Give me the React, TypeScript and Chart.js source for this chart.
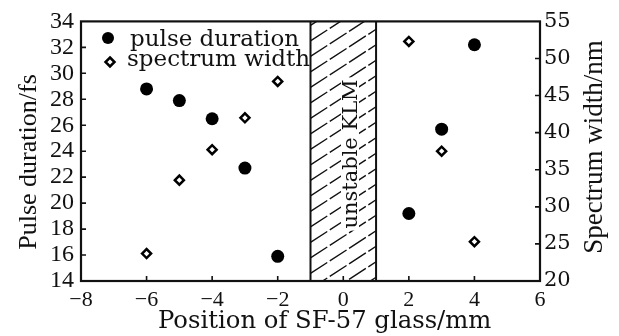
import React, { useEffect, useRef } from 'react';
import { Chart, registerables } from 'chart.js';

Chart.register(...registerables);

// ---- data ----
const positions = [-6, -5, -4, -3, -2, 2, 3, 4];
const pulseDuration = [28.8, 27.9, 26.5, 22.7, 15.9, 19.2, 25.7, 32.2];
const spectrumWidth = [23.7, 33.6, 37.7, 42.0, 46.9, 52.3, 37.5, 25.3];
const xTickValues = [-8, -6, -4, -2, 0, 2, 4, 6];
const leftTickValues = [14, 16, 18, 20, 22, 24, 26, 28, 30, 32, 34];
const rightTickValues = [20, 25, 30, 35, 40, 45, 50, 55];
const unstableRange = [-1, 1];
const seriesNames = ['pulse duration', 'spectrum width'];
const xTitle = 'Position of SF-57 glass/mm';
const leftTitle = 'Pulse duration/fs';
const rightTitle = 'Spectrum width/nm';
const regionLabel = 'unstable KLM';

const INK = '#111';

const decor = {
  id: 'decor',
  beforeDatasetsDraw(chart: any) {
    const { ctx, chartArea: a, scales } = chart;
    const x = scales.x;
    const x0 = x.getPixelForValue(unstableRange[0]);
    const x1 = x.getPixelForValue(unstableRange[1]);
    ctx.save();
    ctx.beginPath();
    ctx.rect(x0, a.top, x1 - x0, a.bottom - a.top);
    ctx.clip();
    ctx.strokeStyle = INK;
    ctx.lineWidth = 1.4;
    ctx.setLineDash([20, 3]);
    const w = x1 - x0;
    const rise = w * 0.65;
    const step = 15.5;
    for (let y = a.top + 4; y < a.bottom + rise + step; y += step) {
      ctx.beginPath();
      ctx.moveTo(x0, y);
      ctx.lineTo(x1, y - rise);
      ctx.stroke();
    }
    ctx.restore();

    // region label with white background
    ctx.save();
    ctx.font = '21px "DejaVu Serif"';
    const tw = ctx.measureText(regionLabel).width;
    const cy = 154;
    const bx = 357;
    ctx.translate(bx, cy);
    ctx.rotate(-Math.PI / 2);
    ctx.fillStyle = '#fff';
    ctx.fillRect(-tw / 2 - 2, -16, tw + 4, 18);
    ctx.fillStyle = INK;
    ctx.textAlign = 'center';
    ctx.textBaseline = 'alphabetic';
    ctx.fillText(regionLabel, 0, 0);
    ctx.restore();

    // borders of region
    ctx.save();
    ctx.strokeStyle = INK;
    ctx.lineWidth = 2;
    ctx.beginPath();
    ctx.moveTo(x0, a.top);
    ctx.lineTo(x0, a.bottom);
    ctx.moveTo(x1, a.top);
    ctx.lineTo(x1, a.bottom);
    ctx.stroke();
    ctx.restore();
  },
  afterDraw(chart: any) {
    const { ctx, chartArea: a, scales } = chart;
    const x = scales.x, y = scales.y, y1 = scales.y1;
    ctx.save();
    ctx.strokeStyle = INK;
    ctx.lineWidth = 2.2;
    ctx.strokeRect(a.left, a.top, a.right - a.left, a.bottom - a.top);

    // inward ticks
    ctx.lineWidth = 1.6;
    ctx.beginPath();
    const tl = 5;
    leftTickValues.slice(1, -1).forEach((v) => {
      const py = y.getPixelForValue(v);
      ctx.moveTo(a.left, py);
      ctx.lineTo(a.left + tl, py);
    });
    rightTickValues.slice(1, -1).forEach((v) => {
      const py = y1.getPixelForValue(v);
      ctx.moveTo(a.right, py);
      ctx.lineTo(a.right - tl, py);
    });
    xTickValues.slice(1, -1).forEach((v) => {
      const px = x.getPixelForValue(v);
      ctx.moveTo(px, a.bottom);
      ctx.lineTo(px, a.bottom - tl);
    });
    ctx.stroke();

    // legend
    ctx.fillStyle = '#000';
    ctx.beginPath();
    ctx.arc(108, 38, 6, 0, Math.PI * 2);
    ctx.fill();
    ctx.beginPath();
    const dx = 110, dy = 62, r = 4.5;
    ctx.moveTo(dx, dy - r);
    ctx.lineTo(dx + r, dy);
    ctx.lineTo(dx, dy + r);
    ctx.lineTo(dx - r, dy);
    ctx.closePath();
    ctx.lineWidth = 2.5;
    ctx.strokeStyle = '#000';
    ctx.stroke();
    ctx.fillStyle = INK;
    ctx.font = '23px "DejaVu Serif"';
    ctx.textAlign = 'left';
    ctx.textBaseline = 'alphabetic';
    ctx.fillText(seriesNames[0], 130, 46);
    ctx.fillText(seriesNames[1], 127, 66);

    // x title
    ctx.font = '24.3px "DejaVu Serif"';
    ctx.fillText(xTitle, 158, 328);

    // left title
    ctx.save();
    ctx.font = '26px "Liberation Serif"';
    ctx.translate(36, 162);
    ctx.rotate(-Math.PI / 2);
    ctx.textAlign = 'center';
    ctx.fillText(leftTitle, 0, 0);
    ctx.restore();

    // right title
    ctx.save();
    ctx.font = '27px "Liberation Serif"';
    ctx.translate(602, 147);
    ctx.rotate(-Math.PI / 2);
    ctx.textAlign = 'center';
    ctx.fillText(rightTitle, 0, 0);
    ctx.restore();

    ctx.restore();
  },
};

export default function App() {
  const ref = useRef<HTMLCanvasElement | null>(null);
  useEffect(() => {
    if (!ref.current) return;
    const chart = new Chart(ref.current, {
      type: 'scatter',
      data: {
        datasets: [
          {
            label: seriesNames[0],
            data: positions.map((p, i) => ({ x: p, y: pulseDuration[i] })),
            yAxisID: 'y',
            pointStyle: 'circle',
            pointRadius: 6.5,
            backgroundColor: '#000',
            borderColor: '#000',
            borderWidth: 0,
          },
          {
            label: seriesNames[1],
            data: positions.map((p, i) => ({ x: p, y: spectrumWidth[i] })),
            yAxisID: 'y1',
            pointStyle: 'rectRot',
            pointRadius: 4.5,
            backgroundColor: '#fff',
            borderColor: '#000',
            borderWidth: 2.5,
          },
        ],
      },
      options: {
        responsive: false,
        animation: false,
        devicePixelRatio: 1,
        layout: { padding: { top: 21, left: 0, right: 0, bottom: 0 } },
        plugins: { legend: { display: false }, tooltip: { enabled: false } },
        scales: {
          x: {
            type: 'linear',
            position: 'bottom',
            min: -8,
            max: 6,
            afterBuildTicks: (s: any) => { s.ticks = xTickValues.map((v) => ({ value: v })); },
            afterFit: (s: any) => { s.height = 55; },
            grid: { display: false, drawTicks: false },
            border: { display: false },
            ticks: {
              autoSkip: false,
              maxRotation: 0,
              padding: 6,
              color: INK,
              font: { family: '"Liberation Serif"', size: 22 },
              callback: (v: any) => (Number(v) < 0 ? '\u2212' + Math.abs(Number(v)) : String(v)),
            },
          },
          y: {
            type: 'linear',
            position: 'left',
            min: 14,
            max: 34,
            afterBuildTicks: (s: any) => { s.ticks = leftTickValues.map((v) => ({ value: v })); },
            afterFit: (s: any) => { s.width = 81; },
            grid: { display: false, drawTicks: false },
            border: { display: false },
            ticks: {
              autoSkip: false,
              padding: 7,
              color: INK,
              font: { family: '"Liberation Serif"', size: 24 },
            },
          },
          y1: {
            type: 'linear',
            position: 'right',
            min: 20,
            max: 55,
            afterBuildTicks: (s: any) => { s.ticks = rightTickValues.map((v) => ({ value: v })); },
            afterFit: (s: any) => { s.width = 79; },
            grid: { display: false, drawTicks: false },
            border: { display: false },
            ticks: {
              autoSkip: false,
              padding: 4,
              color: INK,
              font: { family: '"DejaVu Serif"', size: 21 },
            },
          },
        },
      },
      plugins: [decor],
    });
    return () => chart.destroy();
  }, []);
  return (
    <div style={{ position: 'fixed', left: 0, top: 0, width: 619, height: 336, background: '#fff' }}>
      <canvas ref={ref} width={619} height={336} />
    </div>
  );
}
